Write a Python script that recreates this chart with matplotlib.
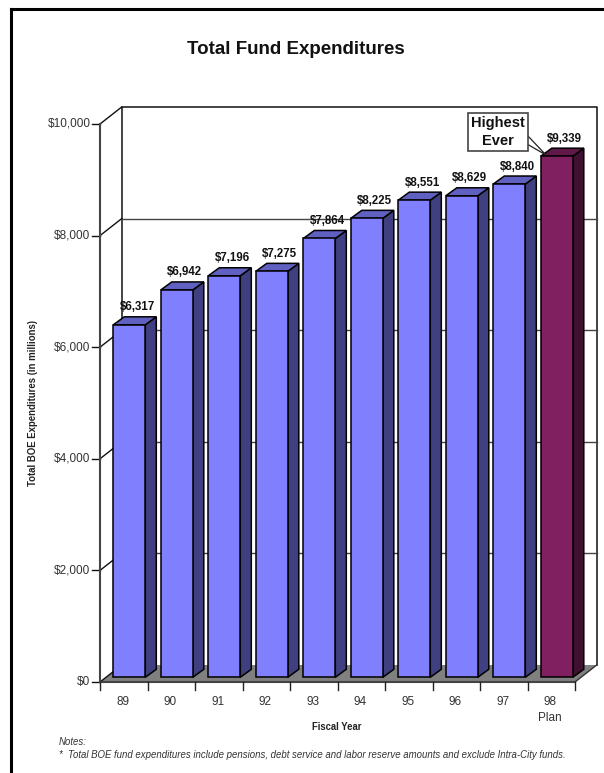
import matplotlib
matplotlib.use('Agg')
import matplotlib.pyplot as plt
from matplotlib.lines import Line2D
from matplotlib.patches import Polygon, Rectangle

years = ['89', '90', '91', '92', '93', '94', '95', '96', '97', '98\nPlan']
spend = [6317, 6942, 7196, 7275, 7864, 8225, 8551, 8629, 8840, 9339]
bar_labels = ['$6,317', '$6,942', '$7,196', '$7,275', '$7,864', '$8,225',
              '$8,551', '$8,629', '$8,840', '$9,339']
y_ticks = [0, 2000, 4000, 6000, 8000, 10000]
y_labels = ['$0', '$2,000', '$4,000', '$6,000', '$8,000', '$10,000']

W, H = 604, 773
plt.rcParams['font.family'] = ['Liberation Sans', 'DejaVu Sans']

# plot area in pixels: front axis corner, one category = 47.5 px, $10k = 558 px
left, right, top, bottom = 100, 575, 124, 682
PX = 10 / (right - left)
PY = 10000 / (bottom - top)


def fx(px):
    return px / W


def fy(py):
    return 1 - py / H


fig = plt.figure(figsize=(W / 100, H / 100), dpi=100)
ax = fig.add_axes([left / W, 1 - bottom / H, (right - left) / W, (bottom - top) / H])
ax.set_xlim(0, 10)
ax.set_ylim(0, 10000)
ax.axis('off')

# depth of the 3d box
dx_box, dy_box = 21.7 * PX, 17 * PY
dx_bar, dy_bar = 11 * PX, 8 * PY
base_x, base_y = 13.3 * PX, 4.7 * PY
bar_w = 32 * PX

# floor
ax.add_patch(Polygon([(0, 0), (10, 0), (10 + dx_box, dy_box), (dx_box, dy_box)],
                     fc='#808080', ec='none', clip_on=False, zorder=1))
# back wall, side wall and gridlines
ax.plot([dx_box, dx_box, 10 + dx_box, 10 + dx_box],
        [dy_box, 10000 + dy_box, 10000 + dy_box, dy_box],
        color='#111111', lw=1.1, clip_on=False, zorder=2)
for v in y_ticks[1:-1]:
    ax.plot([dx_box, 10 + dx_box], [v + dy_box, v + dy_box], color='#444444', lw=1.0,
            clip_on=False, zorder=2)
for v, lab in zip(y_ticks, y_labels):
    ax.plot([0, dx_box], [v, v + dy_box], color='#111111', lw=1.0, clip_on=False, zorder=2)
    ax.plot([-8 * PX, 0], [v, v], color='#111111', lw=1.0, clip_on=False, zorder=2)
    ax.text(-9.5 * PX, v, lab, ha='right', va='center', fontsize=8.5, color='#333333')
ax.plot([0, 0], [0, 10000], color='#444444', lw=1.5, clip_on=False, zorder=2)
ax.plot([0, 10], [0, 0], color='#444444', lw=1.5, clip_on=False, zorder=2)
ax.plot([10, 10 + dx_box], [0, dy_box], color='#333333', lw=1.0, clip_on=False, zorder=2)
for i in range(11):
    ax.plot([i, i], [0, -8 * PY], color='#222222', lw=1.0, clip_on=False, zorder=2)

# bars
for i, val in enumerate(spend):
    front, side, roof = '#8080ff', '#404080', '#6060c0'
    if i == len(spend) - 1:
        front, side, roof = '#802060', '#401030', '#601848'
    x0 = i + base_x
    x1 = x0 + bar_w
    y1 = val + base_y
    ax.bar(x0, val, bar_w, bottom=base_y, align='edge', color=front, edgecolor='black',
           linewidth=1.1, zorder=4, clip_on=False)
    ax.add_patch(Polygon([(x1, base_y), (x1 + dx_bar, base_y + dy_bar), (x1 + dx_bar, y1 + dy_bar), (x1, y1)],
                         fc=side, ec='black', lw=1.1, zorder=3, clip_on=False))
    ax.add_patch(Polygon([(x0, y1), (x0 + dx_bar, y1 + dy_bar), (x1 + dx_bar, y1 + dy_bar), (x1, y1)],
                         fc=roof, ec='black', lw=1.1, zorder=3, clip_on=False))
    ax.text(x0 + bar_w / 2 + 8 * PX, y1 + dy_bar + 3.5 * PY, bar_labels[i], ha='center', va='bottom',
            fontsize=8.3, fontweight='bold', color='#111111', zorder=6)
    ax.text(i + 0.48, -14 * PY, years[i], ha='center', va='top', fontsize=8.5,
            color='#333333', linespacing=1.4)

# callout over the last bar, box with a white pointer
fig.add_artist(Polygon([(fx(527), fy(135)), (fx(546), fy(155)), (fx(527), fy(144))],
                       fc='white', ec='#222222', lw=0.9, transform=fig.transFigure, zorder=7))
fig.add_artist(Rectangle((fx(468), fy(151)), 60 / W, 38 / H, fc='white', ec='#444444', lw=1.2,
                         transform=fig.transFigure, zorder=8))
fig.text(fx(498), fy(132), 'Highest\nEver', ha='center', va='center', fontsize=10.5,
         fontweight='bold', color='#111111', linespacing=1.4, zorder=9)

fig.text(fx(296), fy(49.5), 'Total Fund Expenditures', ha='center', va='center', fontsize=13.5,
         fontweight='bold', color='#111111')
fig.text(fx(33), fy(403.5), 'Total BOE Expenditures (in millions)', rotation=90, ha='center',
         va='center', fontsize=6.9, fontweight='bold', color='#222222')
fig.text(fx(337), fy(727.5), 'Fiscal Year', ha='center', va='center', fontsize=6.85,
         fontweight='bold', color='#222222')
fig.text(fx(59), fy(742), 'Notes:', ha='left', va='center', fontsize=6.9, style='italic',
         color='#333333')
fig.text(fx(59), fy(754.5),
         '*  Total BOE fund expenditures include pensions, debt service and labor reserve amounts and exclude Intra-City funds.',
         ha='left', va='center', fontsize=6.9, style='italic', color='#333333')

# page border, only top and left
fig.add_artist(Line2D([fx(10.5), fx(10.5)], [0, fy(8.5)], color='black', lw=2.2,
                      solid_capstyle='projecting', transform=fig.transFigure))
fig.add_artist(Line2D([fx(10.5), 1], [fy(8.5), fy(8.5)], color='black', lw=2.2,
                      solid_capstyle='projecting', transform=fig.transFigure))

fig.savefig('out.png', dpi=100)
